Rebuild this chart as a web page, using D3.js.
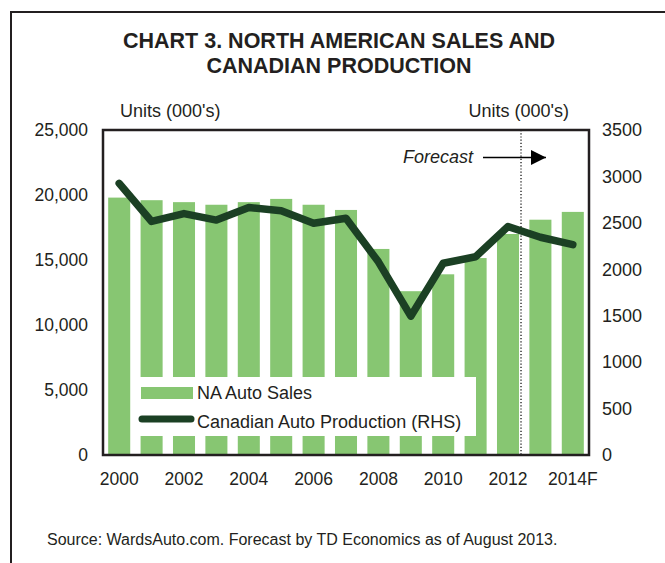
<!DOCTYPE html>
<html>
<head>
<meta charset="utf-8">
<script src="https://cdn.jsdelivr.net/npm/d3@7"></script>
<style>
  body { margin: 0; background: #fff; }
  svg { display: block; font-family: "Liberation Sans", Arial, sans-serif; }
</style>
</head>
<body>
<div id="chart"></div>
<script>
// Dades del gràfic
const years = ['2000', '2001', '2002', '2003', '2004', '2005', '2006', '2007',
               '2008', '2009', '2010', '2011', '2012', '2013', '2014'];
const naSales = [19800, 19600, 19450, 19250, 19450, 19700, 19250, 18850,
                 15850, 12600, 13900, 15150, 17000, 18100, 18700];
const cdnProduction = [2925, 2515, 2600, 2530, 2665, 2630, 2495, 2550,
                       2080, 1495, 2065, 2135, 2460, 2345, 2265];
const xTickYears = ['2000', '2002', '2004', '2006', '2008', '2010', '2012', '2014'];
const xTickLabels = ['2000', '2002', '2004', '2006', '2008', '2010', '2012', '2014F'];
const leftTicks = [0, 5000, 10000, 15000, 20000, 25000];
const rightTicks = [0, 500, 1000, 1500, 2000, 2500, 3000, 3500];

const W = 665, H = 563;
const textColor = '#231f20';
const barColor = '#87c672';
const lineColor = '#1b4024';

const plot = { left: 103, right: 589, top: 130, bottom: 455 };

const svg = d3.select('#chart').append('svg')
    .attr('width', W)
    .attr('height', H);

// Marc exterior
svg.append('rect')
    .attr('x', 11).attr('y', 12)
    .attr('width', W + 20).attr('height', H + 20)
    .attr('fill', 'none')
    .attr('stroke', textColor)
    .attr('stroke-width', 2);

// Títol
const title = svg.append('text')
    .attr('text-anchor', 'middle')
    .attr('font-weight', 'bold')
    .attr('font-size', '21.5px')
    .attr('fill', textColor);
title.append('tspan').attr('x', 339).attr('y', 48).text('CHART 3. NORTH AMERICAN SALES AND');
title.append('tspan').attr('x', 339).attr('y', 73).text('CANADIAN PRODUCTION');

// Escales
const x = d3.scaleBand()
    .domain(years)
    .range([plot.left, plot.right])
    .paddingInner(0.32)
    .paddingOuter(0.16);

const yLeft = d3.scaleLinear()
    .domain([0, 25000])
    .range([plot.bottom, plot.top]);

const yRight = d3.scaleLinear()
    .domain([0, 3500])
    .range([plot.bottom, plot.top]);

// Barres
svg.append('g')
    .selectAll('rect')
    .data(years)
    .join('rect')
    .attr('x', d => x(d))
    .attr('y', (d, i) => yLeft(naSales[i]))
    .attr('width', x.bandwidth())
    .attr('height', (d, i) => yLeft(0) - yLeft(naSales[i]))
    .attr('fill', barColor);

// Línia de previsió
const fx = x('2012') + x.bandwidth() + 2;
svg.append('line')
    .attr('x1', fx).attr('x2', fx)
    .attr('y1', plot.top).attr('y2', plot.bottom)
    .attr('stroke', '#000')
    .attr('stroke-width', 1.2)
    .attr('stroke-dasharray', '1.2,2');

// Línia de producció
const line = d3.line()
    .x((d, i) => x(years[i]) + x.bandwidth() / 2)
    .y(d => yRight(d));

svg.append('path')
    .datum(cdnProduction)
    .attr('fill', 'none')
    .attr('stroke', lineColor)
    .attr('stroke-width', 7.5)
    .attr('stroke-linejoin', 'round')
    .attr('stroke-linecap', 'round')
    .attr('d', line);

// Llegenda
const legend = svg.append('g');
legend.append('rect')
    .attr('x', 132).attr('y', 377)
    .attr('width', 344).attr('height', 59)
    .attr('fill', '#fff');
legend.append('rect')
    .attr('x', 141).attr('y', 387)
    .attr('width', 52).attr('height', 12)
    .attr('fill', barColor);
legend.append('line')
    .attr('x1', 142).attr('x2', 191)
    .attr('y1', 419).attr('y2', 419)
    .attr('stroke', lineColor)
    .attr('stroke-width', 7)
    .attr('stroke-linecap', 'round');
legend.append('text')
    .attr('x', 197).attr('y', 399)
    .attr('font-size', '18px')
    .attr('fill', textColor)
    .text('NA Auto Sales');
legend.append('text')
    .attr('x', 197).attr('y', 428)
    .attr('font-size', '18px')
    .attr('fill', textColor)
    .text('Canadian Auto Production (RHS)');

// Requadre de l'àrea del gràfic
svg.append('rect')
    .attr('x', plot.left).attr('y', plot.top)
    .attr('width', plot.right - plot.left)
    .attr('height', plot.bottom - plot.top)
    .attr('fill', 'none')
    .attr('stroke', textColor)
    .attr('stroke-width', 2.5);

// Eixos
const styleAxis = size => g => {
    g.select('.domain').remove();
    g.selectAll('text')
        .attr('font-size', size)
        .attr('font-family', '"Liberation Sans", Arial, sans-serif')
        .attr('fill', textColor);
};

svg.append('g')
    .attr('transform', `translate(${plot.left},0)`)
    .call(d3.axisLeft(yLeft).tickValues(leftTicks).tickSize(0).tickPadding(15)
        .tickFormat(d3.format(',')))
    .call(styleAxis('17.5px'));

svg.append('g')
    .attr('transform', `translate(${plot.right},0)`)
    .call(d3.axisRight(yRight).tickValues(rightTicks).tickSize(0).tickPadding(13)
        .tickFormat(d3.format('d')))
    .call(styleAxis('18px'));

svg.append('g')
    .attr('transform', `translate(0,${plot.bottom})`)
    .call(d3.axisBottom(x).tickValues(xTickYears).tickSize(0).tickPadding(18)
        .tickFormat((d, i) => xTickLabels[i]))
    .call(styleAxis('17.5px'));

// Títols dels eixos
svg.append('text')
    .attr('x', 120).attr('y', 117)
    .attr('font-size', '18px')
    .attr('fill', textColor)
    .text("Units (000's)");
svg.append('text')
    .attr('x', 569).attr('y', 117)
    .attr('text-anchor', 'end')
    .attr('font-size', '18px')
    .attr('fill', textColor)
    .text("Units (000's)");

// Anotació de previsió
svg.append('defs').append('marker')
    .attr('id', 'arrow')
    .attr('viewBox', '0 0 10 10')
    .attr('refX', 10).attr('refY', 5)
    .attr('markerWidth', 15).attr('markerHeight', 15)
    .attr('markerUnits', 'userSpaceOnUse')
    .attr('orient', 'auto')
    .append('path')
    .attr('d', 'M0,0L10,5L0,10Z')
    .attr('fill', '#000');

svg.append('text')
    .attr('x', 473).attr('y', 163)
    .attr('text-anchor', 'end')
    .attr('font-size', '18px')
    .attr('font-style', 'italic')
    .attr('fill', textColor)
    .text('Forecast');
svg.append('line')
    .attr('x1', 483).attr('x2', 546)
    .attr('y1', 157.5).attr('y2', 157.5)
    .attr('stroke', '#000')
    .attr('stroke-width', 1.5)
    .attr('marker-end', 'url(#arrow)');

// Font
svg.append('text')
    .attr('x', 47).attr('y', 545)
    .attr('font-size', '16px')
    .attr('fill', textColor)
    .text('Source: WardsAuto.com. Forecast by TD Economics as of August 2013.');
</script>
</body>
</html>
